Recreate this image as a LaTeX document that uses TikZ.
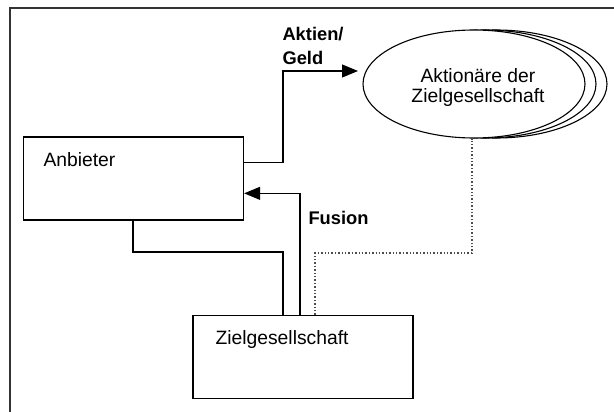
\documentclass[tikz,border=0pt]{standalone}
\usepackage{fontspec}
\setmainfont{Liberation Sans}
\usetikzlibrary{arrows.meta,shapes.geometric,calc}
\begin{document}
\begin{tikzpicture}[x=1pt,y=-1pt,
  every node/.style={font=\fontsize{19.3}{20}\selectfont},
  box/.style={draw,line width=1.3pt,minimum width=220pt,minimum height=83pt,inner sep=0pt},
  ell/.style={draw,ellipse,line width=1.1pt,fill=white,minimum width=222pt,minimum height=108pt,inner sep=0pt},
  conn/.style={line width=1.2pt},
  arr/.style={conn,-{Triangle[length=16pt,width=13pt]}},
  lbl/.style={font=\bfseries\fontsize{18.3}{24}\selectfont,align=left},
  dots/.style={line width=1.4pt,dotted,black!70}]
\useasboundingbox (0,0) rectangle (614,412);
% frame
\draw[line width=1.3pt,black!80] (10,412) -- (10,8) -- (614,8);
% boxes
\node[box] (anb) at (133.5,178.5) {};
\node[anchor=west] (anbt) at (40,160) {Anbieter};
\node[box] (ziel) at (303,357) {};
\node[anchor=west] (zielt) at (212,340) {Zielgesellschaft};
% ellipses
\node[ell] (e3) at (496,84) {};
\node[ell] (e2) at (485,84) {};
\node[ell,align=center] (ell) at (474,84) {};
\node[align=center] (ellt) at (478,88) {Aktionäre der\\Zielgesellschaft};
% connectors
\coordinate (tip1) at (358,71);
\draw[arr] ($(anb.north east)+(0,26)$) -| (283,71) -- (tip1);
\node[lbl,anchor=west] (l1) at (279,46) {Aktien/\\Geld};
\draw[arr] (ziel.north -| 300,0) |- ($(anb.north east)+(0,57)$);
\node[lbl,anchor=west] (l2) at (305,218) {Fusion};
\draw[conn] (anb.south -| 133,0) |- (283,252) -- (ziel.north -| 283,0);
\draw[dots] (ziel.north -| 315,0) |- (472,253) -- (ell.south -| 472,0);
\end{tikzpicture}
\end{document}
